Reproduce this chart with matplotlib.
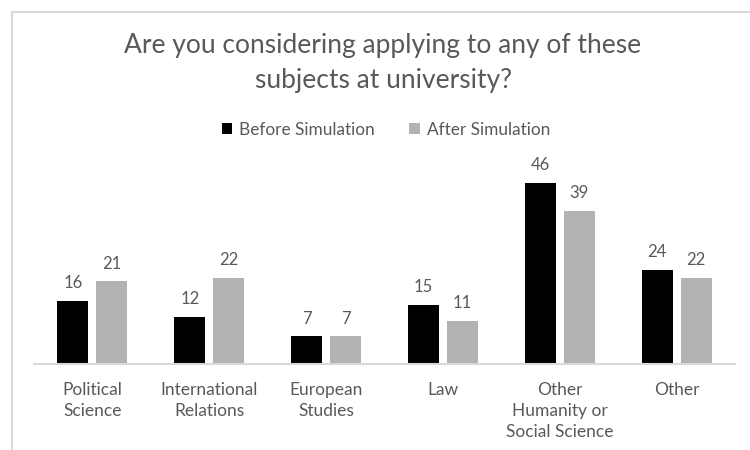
import matplotlib

matplotlib.use("Agg")
import matplotlib.pyplot as plt
from matplotlib.lines import Line2D
import numpy as np

categories = ["Political\nScience", "International\nRelations", "European\nStudies",
              "Law", "Other\nHumanity or\nSocial Science", "Other"]
before = [16, 12, 7, 15, 46, 24]
after = [21, 22, 7, 11, 39, 22]

BLACK, GRAY, TEXT, LINE = "#000000", "#b3b3b3", "#595959", "#d9d9d9"
plt.rcParams["font.family"] = ["Lato", "DejaVu Sans"]

W, H = 750, 450
fig = plt.figure(figsize=(W / 100, H / 100), dpi=100, facecolor="white")

# chart frame: only top and left edges fall inside the image
fig.add_artist(Line2D([12 / W, 1], [1 - 12 / H] * 2, color=LINE, lw=1.5))
fig.add_artist(Line2D([12 / W] * 2, [0, 1 - 12 / H], color=LINE, lw=1.5))

ax = fig.add_axes([34 / W, 86 / H, 701 / W, 196.5 / H])
x = np.arange(len(categories))
bw, off = 0.265, 0.167
b1 = ax.bar(x - off, before, bw, color=BLACK, label="Before Simulation")
b2 = ax.bar(x + off, after, bw, color=GRAY, label="After Simulation")
for bars in (b1, b2):
    ax.bar_label(bars, padding=7, fontsize=12, color=TEXT)

ax.set_xlim(-0.5, len(categories) - 0.5)
ax.set_ylim(0, 50)
ax.set_yticks([])
ax.set_xticks(x)
ax.set_xticklabels(categories, fontsize=12.5, color=TEXT, linespacing=1.4)
ax.tick_params(axis="x", length=0, pad=13)
for side in ("top", "right", "left"):
    ax.spines[side].set_visible(False)
ax.spines["bottom"].set_color(LINE)
ax.spines["bottom"].set_linewidth(1.5)

fig.text(383 / W, 1 - 53 / H, "Are you considering applying to any of these",
         ha="center", va="baseline", fontsize=19, color=TEXT)
fig.text(383 / W, 1 - 88 / H, "subjects at university?",
         ha="center", va="baseline", fontsize=19, color=TEXT)
fig.legend(handles=[b1, b2], loc="center", bbox_to_anchor=(386 / W, 1 - 130 / H), ncol=2,
           frameon=False, fontsize=12.4, labelcolor=TEXT, handlelength=0.6,
           handleheight=0.6, handletextpad=0.4, columnspacing=2.0)

fig.savefig("out.png", dpi=100, facecolor="white")
